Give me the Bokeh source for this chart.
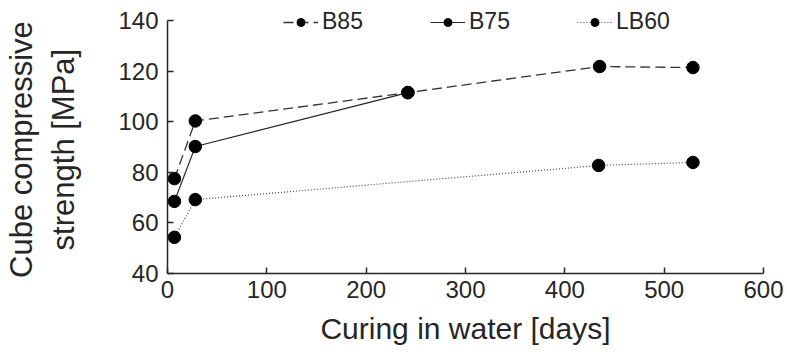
from bokeh.plotting import figure
from bokeh.models import Range1d, FixedTicker, Legend, LegendItem
from bokeh.embed import file_html
from bokeh.resources import INLINE

# data
b85_days = [7, 28, 242, 435, 529]
b85_strength = [77.5, 100.3, 111.5, 121.8, 121.4]
b75_days = [7, 28, 242]
b75_strength = [68.5, 90.2, 111.5]
lb60_days = [7, 28, 434, 529]
lb60_strength = [54.3, 69.2, 82.7, 83.9]
x_ticks = [0, 100, 200, 300, 400, 500, 600]
y_ticks = [40, 60, 80, 100, 120, 140]

FONT = "Liberation Sans"
TXT = "#262626"

# frame top sits above 140 so the legend is not clipped; axis line bounded to 40..140
p = figure(width=787, height=356, output_backend="svg", toolbar_location=None,
           x_range=Range1d(0, 600), y_range=Range1d(40, 144.74),
           min_border_left=167, min_border_right=24, min_border_top=8,
           min_border_bottom=83)
p.outline_line_color = None
p.grid.visible = False
p.background_fill_color = "white"
p.border_fill_color = "white"

for ax in (p.xaxis[0], p.yaxis[0]):
    ax.axis_line_color = TXT
    ax.axis_line_width = 1.5
    ax.major_tick_line_color = TXT
    ax.major_tick_line_width = 1.5
    ax.major_tick_in = 6
    ax.major_tick_out = 0
    ax.minor_tick_line_color = None
    ax.major_label_text_font = FONT
    ax.major_label_text_font_size = "24px"
    ax.major_label_text_color = TXT
    ax.axis_label_text_font = FONT
    ax.axis_label_text_font_style = "normal"
    ax.axis_label_text_color = TXT

p.xaxis.axis_label_text_font_size = "30px"
p.yaxis.axis_label_text_font_size = "31px"
p.yaxis.bounds = (40, 140)
p.xaxis.ticker = FixedTicker(ticks=x_ticks)
p.yaxis.ticker = FixedTicker(ticks=y_ticks)
p.xaxis.axis_label = "Curing in water [days]"
# trailing no-break spaces centre the label on the 40..140 axis rather than the taller frame
p.yaxis.axis_label = "Cube compressive\u00a0\u00a0\nstrength [MPa]\u00a0\u00a0"
p.xaxis.major_label_standoff = 7
p.yaxis.major_label_standoff = 9
p.xaxis.axis_label_standoff = 11
p.yaxis.axis_label_standoff = 34

l1 = p.line(b85_days, b85_strength, line_color="#333333", line_width=1.3, line_dash="10 5")
c1 = p.scatter(b85_days, b85_strength, size=12.5, fill_color="black", line_color="black")
l2 = p.line(b75_days, b75_strength, line_color="#262626", line_width=1.2)
c2 = p.scatter(b75_days, b75_strength, size=12.5, fill_color="black", line_color="black")
l3 = p.line(lb60_days, lb60_strength, line_color="#444444", line_width=1.2, line_dash="1 2")
c3 = p.scatter(lb60_days, lb60_strength, size=12.5, fill_color="black", line_color="black")

legend = Legend(items=[
    LegendItem(label="B85", renderers=[l1, c1]),
    LegendItem(label="B75", renderers=[l2, c2]),
    LegendItem(label="LB60", renderers=[l3, c3]),
], orientation="horizontal", location=(116, 238))
legend.border_line_color = None
legend.background_fill_alpha = 0
legend.padding = 0
legend.margin = 0
legend.spacing = 0
legend.glyph_width = 35
legend.glyph_height = 20
legend.label_standoff = 4
legend.label_width = 108
legend.label_text_font = FONT
legend.label_text_font_size = "23px"
legend.label_text_color = TXT
p.add_layout(legend, "center")

open("out.html", "w").write(file_html(p, INLINE))
